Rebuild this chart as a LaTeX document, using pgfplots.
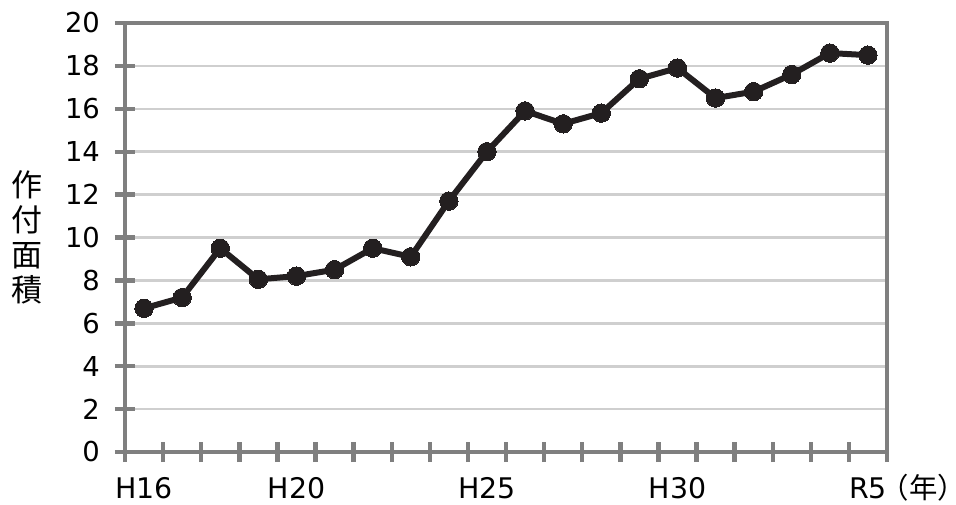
\documentclass[border=0pt]{standalone}
\usepackage{fontspec}
\setmainfont{DejaVu Sans}
\newfontfamily\jp{Noto Sans CJK JP}
\usepackage{pgfplots}
\pgfplotsset{compat=1.18}
\definecolor{axisgray}{HTML}{7F7F7F}
\definecolor{gridgray}{HTML}{CFCFCF}
\definecolor{lineblack}{HTML}{231F20}

\begin{document}
\begin{tikzpicture}
\begin{axis}[
  at={(0,0)}, anchor=south west,
  scale only axis,
  width=381pt, height=214.5pt,
  xmin=-0.5, xmax=19.5,
  ymin=0, ymax=20,
  xtick={0,4,9,14,19},
  xticklabels={H16,H20,H25,H30,{R5\rlap{\jp\kern-3pt（年）}}},
  minor xtick={-0.5,0.5,...,19.5},
  ytick={0,2,...,20},
  xtick pos=bottom, ytick pos=left,
  tick align=center,
  major tick length=10pt,
  minor tick length=10pt,
  major x tick style={draw=none},
  every tick/.style={axisgray, line width=2.2pt},
  minor x tick style={axisgray, line width=2.2pt},
  axis line style={axisgray, line width=2.2pt},
  ymajorgrids=true,
  grid style={gridgray, line width=1.3pt},
  /pgf/number format/assume math mode=true,
  yticklabel style={anchor=east, xshift=-4pt, font=\fontsize{13.7}{16}\selectfont},
  xticklabel style={anchor=base, yshift=-18pt, font=\fontsize{14.2}{16}\selectfont},
  ylabel={作\\付\\面\\積},
  every axis y label/.style={at={(rel axis cs:0,0.5)}, xshift=-49pt, anchor=center,
    align=center, font=\jp\fontsize{15.5}{17.4}\selectfont},
  clip=false,
]
\addplot[lineblack, line width=3pt, mark=*, mark size=4.6pt,
  mark options={fill=lineblack, draw=lineblack, line width=0pt}]
coordinates {
(0,6.7) (1,7.2) (2,9.5) (3,8.05) (4,8.2) (5,8.5) (6,9.5) (7,9.1)
(8,11.7) (9,14.0) (10,15.9) (11,15.3) (12,15.8) (13,17.4) (14,17.9)
(15,16.5) (16,16.8) (17,17.6) (18,18.6) (19,18.5)
};
\end{axis}
\pgfresetboundingbox
\path[use as bounding box] (-62.5pt,-26pt) rectangle (415.5pt,226pt);
\end{tikzpicture}
\end{document}
